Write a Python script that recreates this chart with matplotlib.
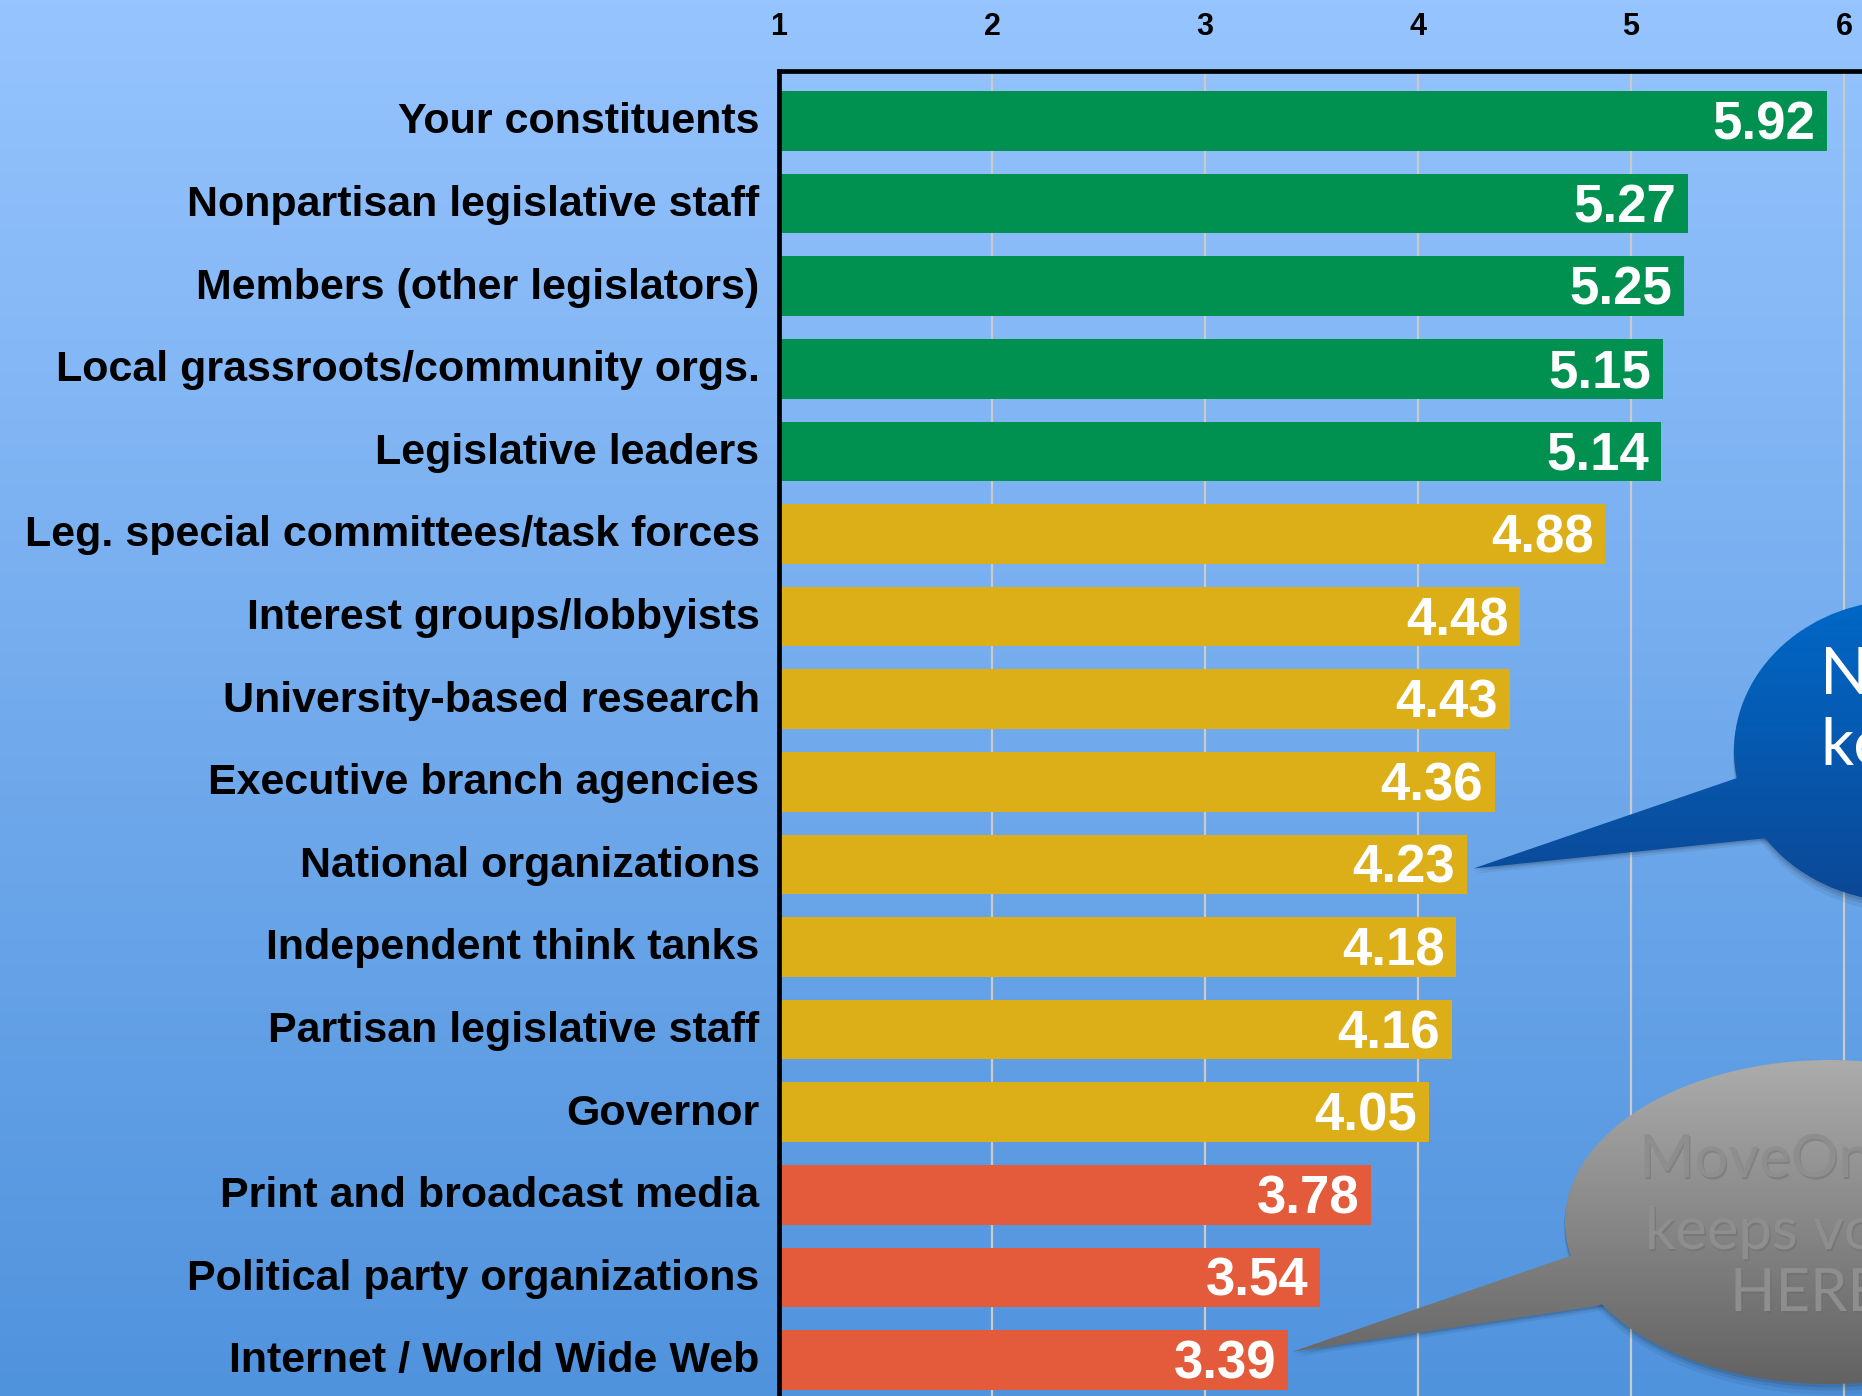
import numpy as np
import matplotlib
matplotlib.use("Agg")
import matplotlib.pyplot as plt
import matplotlib.transforms as mtransforms
from matplotlib.patches import Ellipse, Polygon
import matplotlib.patheffects as pe

# survey data: how useful each source is (1-7 scale, cut at 6 on the slide)
categories = [
    "Your constituents",
    "Nonpartisan legislative staff",
    "Members (other legislators)",
    "Local grassroots/community orgs.",
    "Legislative leaders",
    "Leg. special committees/task forces",
    "Interest groups/lobbyists",
    "University-based research",
    "Executive branch agencies",
    "National organizations",
    "Independent think tanks",
    "Partisan legislative staff",
    "Governor",
    "Print and broadcast media",
    "Political party organizations",
    "Internet / World Wide Web",
]
scores = [5.92, 5.27, 5.25, 5.15, 5.14, 4.88, 4.48, 4.43, 4.36, 4.23,
          4.18, 4.16, 4.05, 3.78, 3.54, 3.39]
tier = ["high"] * 5 + ["mid"] * 8 + ["low"] * 3
ticks = [1, 2, 3, 4, 5, 6]

tier_colors = {"high": "#009150", "mid": "#dcae17", "low": "#e35b3a"}

W, H = 1862, 1396
fig = plt.figure(figsize=(W / 100, H / 100), dpi=100)

# slide background gradient
bg = fig.add_axes([0, 0, 1, 1], zorder=0)
top_c = np.array([150, 196, 254]) / 255
bot_c = np.array([80, 147, 221]) / 255
t = np.linspace(0, 1, 256)[:, None, None]
bg.imshow(top_c * (1 - t) + bot_c * t, extent=[0, 1, 0, 1], aspect="auto")
bg.axis("off")

left = 779 / W
ax = fig.add_axes([left, 0, 1 - left, 1 - 71 / H], zorder=1)
ax.patch.set_alpha(0)

y = np.arange(len(categories))
vals = np.array(scores)
ax.barh(y, vals - 1, left=1, height=0.72,
        color=[tier_colors[k] for k in tier], zorder=2)

for i, v in enumerate(scores):
    ax.text(v - 0.055, i + 0.225, f"{v:.2f}", ha="right", va="baseline",
            color="white", fontsize=38, fontweight="bold",
            family="Liberation Sans", zorder=3)

ax.set_xlim(1, 6.085)
ax.set_ylim(15.436, -0.605)
ax.set_xticks(ticks)
ax.xaxis.tick_top()
ax.xaxis.grid(True, color="#cacaca", lw=1.6, zorder=0)
ax.set_axisbelow(True)
ax.tick_params(axis="x", length=0, pad=21, labelsize=22)
ax.set_yticks(y, labels=categories)
ax.tick_params(axis="y", length=0, pad=14, labelsize=31)
lift = mtransforms.ScaledTranslation(0, 3 / 100, fig.dpi_scale_trans)
for lab in ax.get_xticklabels() + ax.get_yticklabels():
    lab.set_fontweight("bold")
    lab.set_family("Liberation Sans")
for lab in ax.get_yticklabels():
    lab.set_transform(lab.get_transform() + lift)
for s in ["right", "bottom"]:
    ax.spines[s].set_visible(False)
for s in ["top", "left"]:
    ax.spines[s].set_linewidth(3.4)
    ax.spines[s].set_color("black")

# overlay for the speech bubbles, in pixel units
ov = fig.add_axes([0, 0, 1, 1], zorder=5)
ov.patch.set_alpha(0)
ov.axis("off")


def to_px(xy):
    d = ax.transData.transform(xy)
    return ov.transData.inverted().transform(d)


def bubble(center, a, b, base1, base2, tip, c_top, c_bot):
    cx, cy = center
    # soft shadow
    for k, al in [(10, 0.06), (6, 0.08), (3, 0.10)]:
        ov.add_patch(Ellipse((cx + k * 0.4, cy + k * 0.6), 2 * a + k, 2 * b + k,
                             fc="black", ec="none", alpha=al))
        shift = mtransforms.Affine2D().translate(k * 0.3, -k * 0.5)
        ov.add_patch(Polygon([base1, tip, base2, center], closed=True,
                             fc="black", ec="none", alpha=al,
                             transform=ov.transData + shift))
    grad = np.array(c_top) * (1 - t) + np.array(c_bot) * t
    shapes = [Ellipse((cx, cy), 2 * a, 2 * b, transform=ov.transData),
              Polygon([base1, tip, base2, center], closed=True, transform=ov.transData)]
    x0 = min(tip[0], cx - a) - 5
    for shp in shapes:
        im = ov.imshow(grad, extent=[x0, cx + a, cy + b, cy - b],
                       origin="upper", aspect="auto", zorder=6)
        im.set_clip_path(shp)


ov.set_xlim(0, W)
ov.set_ylim(H, 0)

blue_tip = to_px((scores[9] + 0.03, 9.05))
bubble((1904, 751), 170, 151, (1737, 778), (1778, 837), blue_tip,
       np.array([0, 104, 198]) / 255, np.array([12, 72, 150]) / 255)

gray_tip = to_px((scores[15] + 0.02, 14.9))
bubble((1830, 1222), 265, 162, (1570, 1256), (1597, 1306), gray_tip,
       np.array([172, 172, 172]) / 255, np.array([98, 98, 98]) / 255)

ov.set_xlim(0, W)
ov.set_ylim(H, 0)

bubble_font = ["Lato", "DejaVu Sans"]
ov.text(1820, 676, "NCSL", color="white", fontsize=47, family=bubble_font,
        va="center", ha="left", zorder=7)
ov.text(1820, 747, "keeps", color="white", fontsize=47, family=bubble_font,
        va="center", ha="left", zorder=7)

emboss = [pe.withSimplePatchShadow(offset=(1, -1.5), shadow_rgbFace="#6a6a6a", alpha=0.45)]
for txt, x, yy in [("MoveOn,", 1639, 1160), ("keeps voters", 1645, 1232), ("HERE", 1730, 1294)]:
    ov.text(x, yy, txt, color="#8e8e8e", fontsize=43, family=bubble_font,
            va="center", ha="left", zorder=7, path_effects=emboss)

fig.savefig("out.png", dpi=100)
